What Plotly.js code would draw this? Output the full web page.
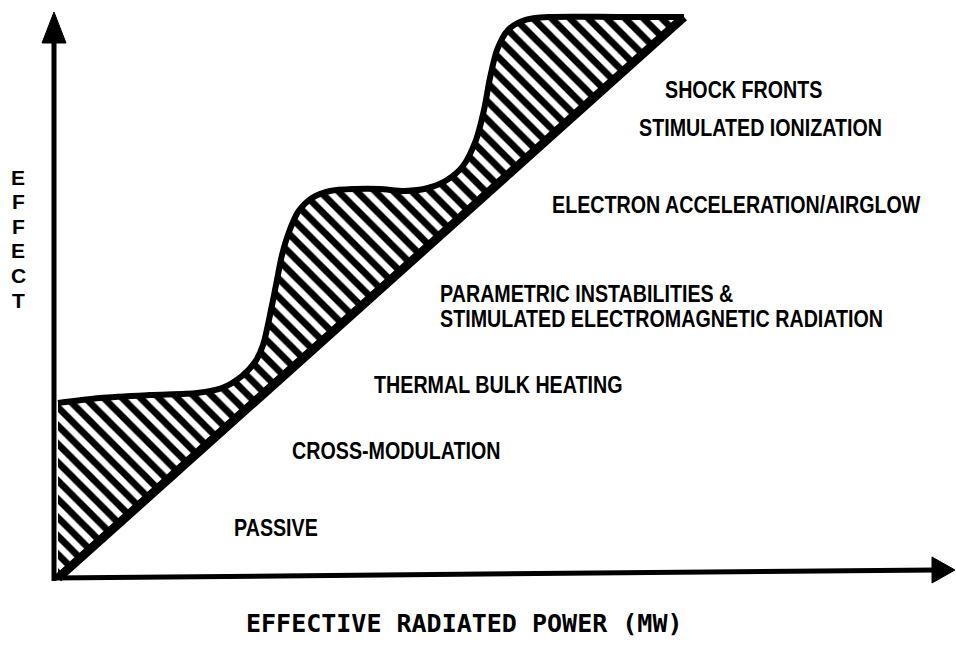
<!DOCTYPE html>
<html>
<head>
<meta charset="utf-8">
<script src="https://cdn.plot.ly/plotly-3.0.1.min.js"></script>
<style>html,body{margin:0;padding:0;background:#fff;}#chart{width:956px;height:648px;}</style>
</head>
<body>
<div id="chart"></div>
<script>
// Upper boundary of the hatched band (schematic units, origin at the axes corner)
const power = [0, 42, 92, 139, 164, 184, 197, 205, 213, 218, 224, 231, 240, 254, 272, 297, 322, 347, 370, 389, 405, 418, 426, 432, 439, 450, 467, 492, 562, 626];
const effectUpper = [175, 180, 183, 185, 190, 202, 216, 233, 268, 293, 323, 346, 366, 380, 387, 389, 389, 387, 390, 398, 412, 438, 468, 500, 528, 548, 558, 561, 561, 561];
// Lower boundary: straight diagonal
const diagPower = [0, 626];
const diagEffect = [0, 561];

// Region labels
const regionLabels = [
  "SHOCK FRONTS",
  "STIMULATED IONIZATION",
  "ELECTRON ACCELERATION/AIRGLOW",
  "PARAMETRIC INSTABILITIES &",
  "STIMULATED ELECTROMAGNETIC RADIATION",
  "THERMAL BULK HEATING",
  "CROSS-MODULATION",
  "PASSIVE"
];
const yTitle = "EFFECT";
const xTitle = "EFFECTIVE RADIATED POWER (MW)";

// label placement (layout only)
const labelPos = [
  [605, 489], [579, 451], [492, 374], [380, 285], [380, 260], [314, 194], [232, 128], [174, 51]
];

const labelFont = {family: "Liberation Sans, Arial, sans-serif", size: 24, color: "#000"};
const condense = 0.82;

const traces = [
  {
    x: power.concat([diagPower[0]]),
    y: effectUpper.concat([diagEffect[0]]),
    mode: "lines",
    line: {width: 0, color: "rgba(0,0,0,0)"},
    fill: "toself",
    fillcolor: "white",
    fillpattern: {shape: "\\", size: 13, solidity: 0.52, fgcolor: "#000", bgcolor: "#fff"},
    hoverinfo: "skip"
  },
  {
    x: power, y: effectUpper, mode: "lines",
    line: {color: "#000", width: 6, shape: "spline", smoothing: 0.8},
    hoverinfo: "skip"
  },
  {
    x: diagPower, y: diagEffect, mode: "lines",
    line: {color: "#000", width: 9},
    hoverinfo: "skip"
  }
];

const annotations = regionLabels.map((t, i) => ({
  x: labelPos[i][0], y: labelPos[i][1], xref: "x", yref: "y",
  text: "<b>" + t + "</b>", showarrow: false, xanchor: "left", yanchor: "middle",
  font: labelFont
}));

yTitle.split("").forEach((ch, i) => {
  annotations.push({
    x: -40, y: 401 - i * 24.6, xref: "x", yref: "y",
    text: "<b>" + ch + "</b>", showarrow: false, xanchor: "center", yanchor: "middle",
    font: {family: "Liberation Sans, Arial, sans-serif", size: 21, color: "#000"}
  });
});

annotations.push({
  x: 406, y: -45, xref: "x", yref: "y",
  text: "<b>" + xTitle + "</b>", showarrow: false, xanchor: "center", yanchor: "middle",
  font: {family: "DejaVu Sans Mono, Liberation Mono, monospace", size: 25, color: "#000"}
});

const shapes = [
  {type: "line", xref: "x", yref: "y", x0: -4, y0: -3, x1: -4, y1: 540, line: {color: "#000", width: 5}},
  {type: "path", xref: "x", yref: "y", path: "M -16 535 L 8 535 L -4 566 Z", fillcolor: "#000", line: {color: "#000", width: 1}},
  {type: "line", xref: "x", yref: "y", x0: -6, y0: 0, x1: 878, y1: 8, line: {color: "#000", width: 5}},
  {type: "path", xref: "x", yref: "y", path: "M 874 21 L 874 -5 L 897 8 Z", fillcolor: "#000", line: {color: "#000", width: 1}}
];

const layout = {
  width: 956, height: 648,
  margin: {l: 0, r: 0, t: 0, b: 0},
  paper_bgcolor: "#fff", plot_bgcolor: "#fff",
  showlegend: false,
  xaxis: {range: [-58, 898], visible: false, fixedrange: true},
  yaxis: {range: [-70, 578], visible: false, fixedrange: true},
  annotations: annotations,
  shapes: shapes
};

Plotly.newPlot("chart", traces, layout, {staticPlot: true, displayModeBar: false}).then(gd => {
  // condense the region labels horizontally (narrow bold face look), anchored at their left edge
  gd.querySelectorAll("g.annotation").forEach(g => {
    const idx = +g.getAttribute("data-index");
    if (idx >= regionLabels.length) return;
    const txt = g.querySelector("text.annotation-text");
    if (!txt) return;
    const bb = txt.getBBox();
    txt.setAttribute("transform", `translate(${bb.x},0) scale(${condense},1) translate(${-bb.x},0)`);
  });
});
</script>
</body>
</html>
